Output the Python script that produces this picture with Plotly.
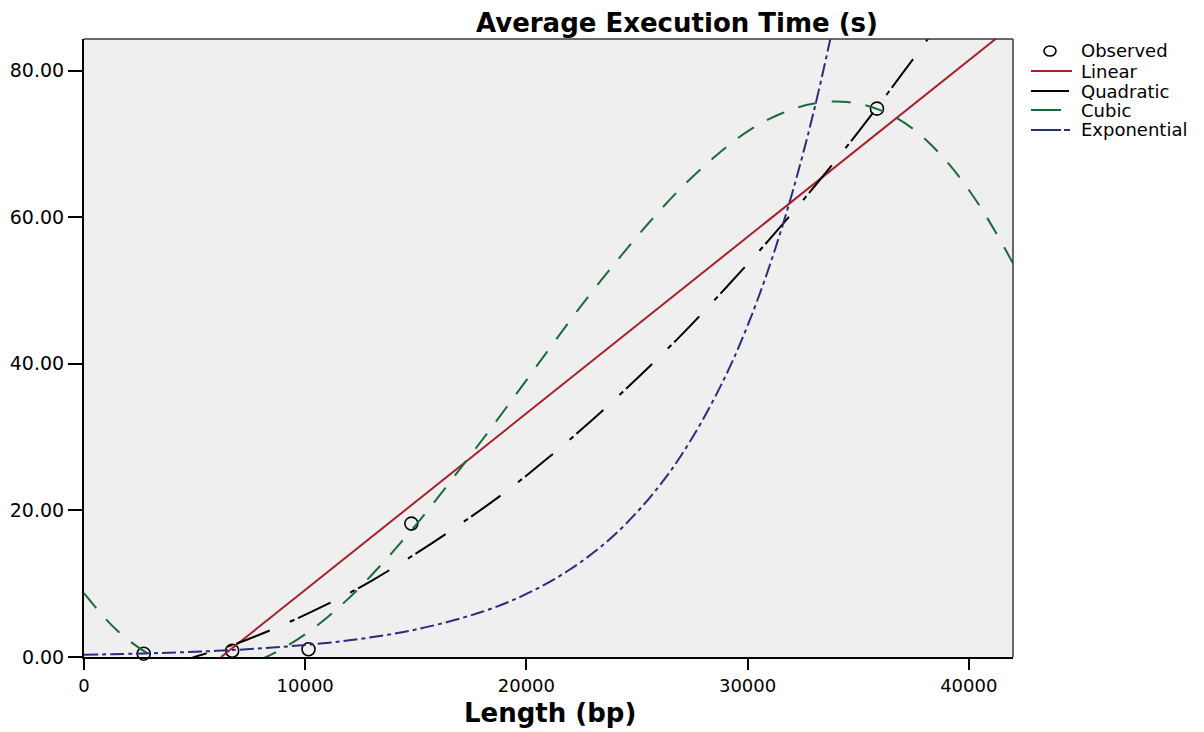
import plotly.graph_objects as go

# ---- data ----
obs_x = [2700, 6700, 10150, 14800, 35850]
obs_y = [0.45, 0.85, 1.05, 18.2, 74.8]

linear_x = [6200, 42000]
linear_y = [0.0, 86.2]

quad_x = [4000, 5000, 7000, 9000, 11000, 13000, 15000, 17000, 19000, 21000,
          23000, 25000, 27000, 29000, 31000, 33000, 35000, 37000, 39000]
quad_y = [-1.0, 0.0, 1.95, 4.4, 7.2, 10.4, 14.1, 18.1, 22.4, 27.2,
          32.4, 38.0, 43.9, 50.3, 57.0, 64.1, 71.6, 79.6, 87.8]

cubic_x = [0, 1500, 3000, 4500, 6000, 7500, 9000, 10500, 12000, 13500,
           15000, 16500, 18000, 19500, 21000, 22500, 24000, 25500, 27000,
           28500, 30000, 31500, 33000, 34500, 36000, 37500, 39000, 40500, 42000]
cubic_y = [8.7, 3.6, 0.3, -1.5, -1.9, -0.9, 1.2, 4.2, 8.1, 12.8,
           18.0, 23.7, 29.6, 35.7, 41.9, 48.0, 53.7, 59.1, 64.0,
           68.2, 71.7, 74.1, 75.5, 75.7, 74.6, 72.0, 67.6, 61.5, 53.7]

exp_x = [0, 3000, 6000, 9000, 12000, 15000, 18000, 20000, 22000, 24000,
         26000, 27500, 29000, 30000, 31000, 32000, 33000, 34000]
exp_y = [0.31, 0.51, 0.84, 1.39, 2.28, 3.75, 6.17, 8.6, 12.0, 16.7,
         23.3, 29.9, 38.3, 45.2, 53.4, 63.1, 74.5, 87.9]

x_ticks = [0, 10000, 20000, 30000, 40000]
y_ticks = [0, 20, 40, 60, 80]

series_names = ["Observed", "Linear", "Quadratic", "Cubic", "Exponential"]
x_title = "Length (bp)"
chart_title = "Average Execution Time (s)"

FONT = "DejaVu Sans"
RED = "#a8202c"
GREEN = "#1b6a3c"
NAVY = "#2b2b80"
QUAD_DASH = "36px,22px,5px,4px"
CUBIC_DASH = "19px,15px"
EXP_DASH = "14px,4px,4px,4px"

# figure geometry (page body has an 8px margin)
W, H = 1196, 724
ML, MT, MR, MB = 76, 31, 191, 75
PW = W - ML - MR
PH = H - MT - MB

fig = go.Figure()

fig.add_trace(go.Scatter(x=obs_x, y=obs_y, mode="markers", name=series_names[0],
                         marker=dict(symbol="circle-open", size=13,
                                     color="black", line=dict(width=1.6, color="black")),
                         cliponaxis=False, showlegend=False))
fig.add_trace(go.Scatter(x=linear_x, y=linear_y, mode="lines", name=series_names[1],
                         line=dict(color=RED, width=2), showlegend=False))
fig.add_trace(go.Scatter(x=quad_x, y=quad_y, mode="lines", name=series_names[2],
                         line=dict(color="black", width=2, shape="spline",
                                   dash=QUAD_DASH), showlegend=False))
fig.add_trace(go.Scatter(x=cubic_x, y=cubic_y, mode="lines", name=series_names[3],
                         line=dict(color=GREEN, width=2, shape="spline",
                                   dash=CUBIC_DASH), showlegend=False))
fig.add_trace(go.Scatter(x=exp_x, y=exp_y, mode="lines", name=series_names[4],
                         line=dict(color=NAVY, width=2, shape="spline",
                                   dash=EXP_DASH), showlegend=False))

# ---- hand-made legend (paper coords from pixel offsets) ----
def px_x(dx):  # dx: pixels right of plot left edge
    return dx / PW

def px_y(dy):  # dy: pixels below plot top edge
    return 1 - dy / PH

shapes = [
    dict(type="line", xref="paper", yref="paper", x0=0, x1=1, y0=1, y1=1,
         line=dict(color="#3a3a3a", width=1.5)),
    dict(type="line", xref="paper", yref="paper", x0=1, x1=1, y0=0, y1=1,
         line=dict(color="#3a3a3a", width=1.5)),
]
annotations = []
row_dy = [12, 32, 52, 71, 91]
text_dx = 995
sample_styles = [
    None,
    dict(color=RED, width=2, dash="solid"),
    dict(color="black", width=2, dash="38px,3px,2px,10px"),
    dict(color=GREEN, width=2, dash="solid"),
    dict(color=NAVY, width=2, dash="30px,3px,6px,10px"),
]
sample_len = [0, 41, 41, 30, 41]
for i, name in enumerate(series_names):
    yy = px_y(row_dy[i])
    if i == 0:
        shapes.append(dict(type="circle", xref="paper", yref="paper",
                           xsizemode="pixel", ysizemode="pixel",
                           xanchor=px_x(966), yanchor=yy,
                           x0=-6, x1=6, y0=-5, y1=5,
                           line=dict(color="black", width=1.6)))
    else:
        shapes.append(dict(type="line", xref="paper", yref="paper",
                           x0=px_x(947), x1=px_x(947 + sample_len[i]), y0=yy, y1=yy,
                           line=sample_styles[i]))
    annotations.append(dict(text=name, xref="paper", yref="paper",
                            x=px_x(text_dx), y=yy, xanchor="left", yanchor="middle",
                            showarrow=False,
                            font=dict(family=FONT, size=18, color="black")))

# x-axis title placed below the tick labels
annotations.append(dict(text=x_title, xref="paper", yref="paper",
                        x=px_x(466), y=px_y(PH + 56), xanchor="center", yanchor="middle",
                        showarrow=False,
                        font=dict(family=FONT, size=26, weight="bold", color="black")))

fig.update_layout(
    width=W, height=H,
    margin=dict(l=ML, r=MR, t=MT, b=MB, autoexpand=False),
    paper_bgcolor="white",
    plot_bgcolor="#efefef",
    font=dict(family=FONT, color="black"),
    showlegend=False,
    title=dict(text=chart_title, x=669 / W, xanchor="center",
               y=1 - 15 / H, yanchor="middle",
               font=dict(family=FONT, size=26, weight="bold", color="black")),
    xaxis=dict(range=[0, 42000], tickvals=x_ticks, tickformat="d",
               showgrid=False, zeroline=False, automargin=False,
               showline=True, linecolor="black", linewidth=2,
               ticks="outside", ticklen=11, tickwidth=2, tickcolor="black",
               tickfont=dict(family=FONT, size=18)),
    yaxis=dict(range=[0, 84.3], tickvals=y_ticks, tickformat=".2f",
               showgrid=False, zeroline=False, automargin=False,
               showline=True, linecolor="black", linewidth=2,
               ticks="outside", ticklen=14, tickwidth=2, tickcolor="black",
               tickfont=dict(family=FONT, size=19)),
    shapes=shapes,
    annotations=annotations,
)

fig.write_html("out.html")
